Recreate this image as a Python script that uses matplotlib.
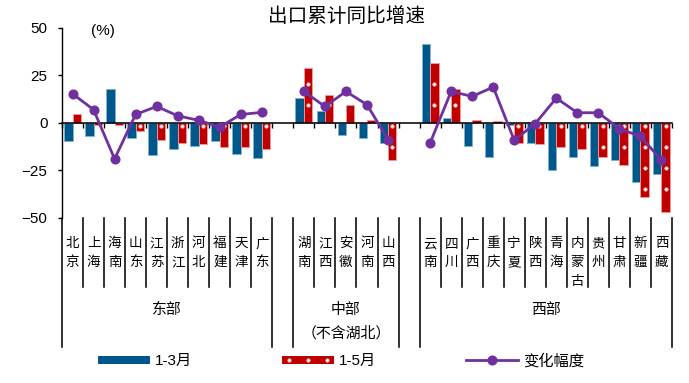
import numpy as np
import matplotlib
matplotlib.use("Agg")
import matplotlib.pyplot as plt
import matplotlib.transforms as mtransforms
from matplotlib.lines import Line2D
from matplotlib.patches import Patch
from matplotlib.legend_handler import HandlerLine2D, HandlerTuple

plt.rcParams['font.family'] = ['Liberation Sans', 'Noto Sans CJK SC']

# ---- data -------------------------------------------------------------
east = ['北京', '上海', '海南', '山东', '江苏', '浙江', '河北', '福建', '天津', '广东']
central = ['湖南', '江西', '安徽', '河南', '山西']
west = ['云南', '四川', '广西', '重庆', '宁夏', '陕西', '青海', '内蒙古', '贵州', '甘肃', '新疆', '西藏']

group_names = ['东部', '中部', '西部']
central_note = '（不含湖北）'

# 1-3月 cumulative export growth (%)
q1_east = [-9.4, -7.0, 18.0, -7.7, -17.0, -13.6, -11.9, -9.4, -16.1, -18.5]
q1_central = [13.1, 6.3, -6.1, -7.7, -10.3]
q1_west = [41.6, 2.8, -11.9, -17.8, -1.0, -10.3, -24.5, -17.8, -22.7, -19.6, -31.1, -26.9]

# 1-5月 cumulative export growth (%)
m5_east = [4.5, -0.8, -0.8, -4.4, -8.7, -10.3, -11.2, -12.8, -12.6, -13.6]
m5_central = [28.8, 14.7, 9.6, 1.4, -19.6]
m5_west = [31.5, 18.0, 1.4, 0.8, -10.5, -11.2, -12.8, -13.6, -17.8, -21.9, -38.8, -46.9]

# change (percentage points)
chg_east = [15.4, 7.0, -18.9, 4.5, 8.7, 3.8, 1.4, -2.1, 4.5, 5.6]
chg_central = [16.6, 8.7, 16.6, 9.6, -8.7]
chg_west = [-10.5, 16.6, 14.0, 18.9, -9.1, -0.3, 13.1, 5.4, 5.4, -3.0, -7.0, -19.6]

yticks = [50, 25, 0, -25, -50]
legend_labels = ['1-3月', '1-5月', '变化幅度']
title = '出口累计同比增速'

BLUE = '#00578A'
RED = '#C00000'
PURPLE = '#7030A0'

# ---- layout of category slots (one empty slot between regions) -------
groups = [east, central, west]
positions = []
start = 0
group_spans = []
for g in groups:
    idx = list(range(start, start + len(g)))
    positions.append(idx)
    group_spans.append((start - 0.5, start + len(g) - 0.5))
    start += len(g) + 1
n_slots = start - 1

names = east + central + west
x = np.array(sum(positions, []), dtype=float)
q1 = np.array(q1_east + q1_central + q1_west)
m5 = np.array(m5_east + m5_central + m5_west)

# line with breaks between regions
x_line = []
y_line = []
for pos, ch in zip(positions, [chg_east, chg_central, chg_west]):
    x_line += pos + [np.nan]
    y_line += ch + [np.nan]
x_line = np.array(x_line[:-1], dtype=float)
y_line = np.array(y_line[:-1], dtype=float)

W, H, DPI = 689, 383, 125
fig = plt.figure(figsize=(W / DPI, H / DPI), dpi=DPI)
ax = fig.add_axes([62 / W, 1 - 218 / H, 610 / W, 190 / H])

bw = 0.4
ax.bar(x - bw / 2, q1, width=bw, color=BLUE, edgecolor='#7fb2d4', linewidth=0.5, zorder=2)
ax.bar(x + bw / 2, m5, width=bw, color=RED, edgecolor='#f19a9a', linewidth=0.5, zorder=2)

# dotted fill of the 1-5月 bars
dot_step = 11.1
dot_levels = -1.7 + dot_step * np.arange(-5, 5)
dx, dy = [], []
for xi, v in zip(x + bw / 2, m5):
    lo, hi = min(0, v) + 1.5, max(0, v) - 1.5
    for lv in dot_levels:
        if lo <= lv <= hi:
            dx.append(xi)
            dy.append(lv)
ax.plot(dx, dy, ls='none', marker='o', ms=2.0, mfc='white', mec='#f3b5b5', mew=0.4,
        zorder=2.2)

ax.plot(x_line, y_line, color=PURPLE, lw=1.6, marker='o', ms=4.8, zorder=4)

ax.set_xlim(-0.5, n_slots - 0.5)
ax.set_ylim(-50, 50)
ax.set_yticks(yticks)
ax.tick_params(axis='y', direction='out', length=2.4, width=0.8, pad=6, labelsize=8.8)
for s in ['top', 'right']:
    ax.spines[s].set_visible(False)
ax.spines['left'].set_linewidth(0.8)
ax.spines['bottom'].set_position(('data', 0))
ax.spines['bottom'].set_linewidth(0.9)
ax.spines['bottom'].set_zorder(3)
ax.set_xticks(np.arange(-0.5, n_slots, 1.0))
ax.set_xticklabels([])
ax.tick_params(axis='x', direction='out', length=2.8, width=0.8)

# ---- category table under the plot -----------------------------------
tr = mtransforms.blended_transform_factory(ax.transData, fig.transFigure)
def fy(py):
    return 1 - py / H

long_edges = set()
for a, b in group_spans:
    long_edges.add(a)
    long_edges.add(b)
for e in np.arange(-0.5, n_slots, 1.0):
    bottom = 347 if any(abs(e - le) < 1e-6 for le in long_edges) else 287
    ax.add_line(Line2D([e, e], [fy(218), fy(bottom)], transform=tr, color='black',
                       lw=0.9, clip_on=False))

for xi, name in zip(x, names):
    for j, ch in enumerate(name):
        ax.text(xi, fy(243 + 19 * j), ch, transform=tr, ha='center', va='center',
                fontsize=7.8, family=['Noto Sans CJK SC'])

for (a, b), gname in zip(group_spans, group_names):
    ax.text((a + b) / 2, fy(310), gname, transform=tr, ha='center', va='center',
            fontsize=8.6, family=['Noto Sans CJK SC'])
a, b = group_spans[1]
ax.text((a + b) / 2, fy(333), central_note, transform=tr, ha='center', va='center',
        fontsize=8.6, family=['Noto Sans CJK SC'])

# ---- titles ------------------------------------------------------------
fig.text(347 / W, fy(17), title, ha='center', va='center', fontsize=11.3,
         family=['Noto Sans CJK SC'])
fig.text(103 / W, fy(31), '(%)', ha='center', va='center', fontsize=8.8)

# ---- legend ------------------------------------------------------------
red_patch = Patch(facecolor=RED, edgecolor='none')
red_dots = Line2D([], [], ls='none', marker='o', ms=2.0, mfc='white', mec='#f3b5b5', mew=0.4)
handles = [
    Patch(facecolor=BLUE, edgecolor='none'),
    (red_patch, red_dots),
    Line2D([], [], color=PURPLE, lw=1.6, marker='o', ms=4.8),
]
fig.legend(handles, legend_labels, ncol=3, loc='center left',
           bbox_to_anchor=(98 / W, fy(361)), frameon=False, handlelength=3.4,
           handleheight=0.5, handletextpad=0.35, columnspacing=5.86, borderpad=0,
           borderaxespad=0, fontsize=8.8,
           handler_map={tuple: HandlerTuple(ndivide=1, pad=0),
                        red_dots: HandlerLine2D(numpoints=3, marker_pad=0.45)})

fig.savefig('out.png', dpi=DPI)
